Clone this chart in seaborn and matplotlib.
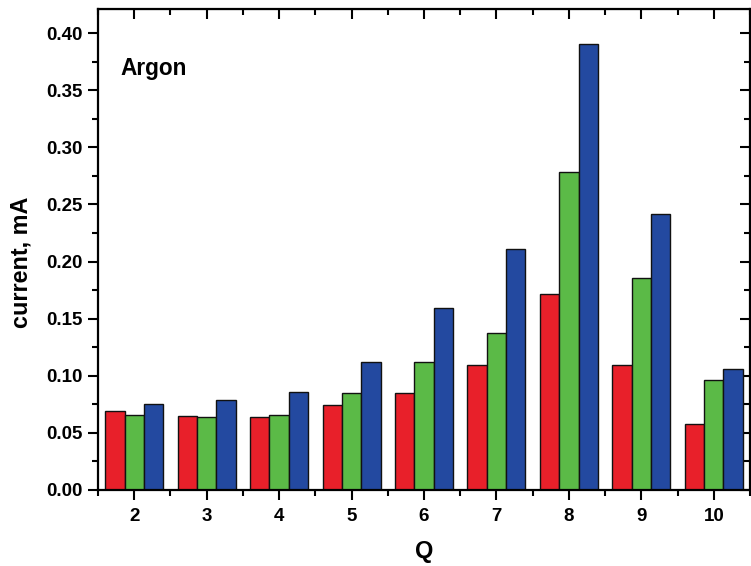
import matplotlib
matplotlib.use('Agg')
import matplotlib.pyplot as plt
import seaborn as sns
import pandas as pd
from matplotlib.ticker import MultipleLocator, FixedLocator, FormatStrFormatter

# data
q_values = ['2', '3', '4', '5', '6', '7', '8', '9', '10']
red_vals = [0.069, 0.065, 0.064, 0.074, 0.085, 0.109, 0.172, 0.109, 0.058]
green_vals = [0.066, 0.064, 0.066, 0.085, 0.112, 0.137, 0.278, 0.186, 0.096]
blue_vals = [0.075, 0.079, 0.086, 0.112, 0.159, 0.211, 0.390, 0.242, 0.106]
series_names = ['s1', 's2', 's3']

df = pd.DataFrame({
    'Q': q_values * 3,
    'current': red_vals + green_vals + blue_vals,
    'series': [s for s in series_names for _ in q_values],
})

palette = {'s1': '#E8202A', 's2': '#5BBA47', 's3': '#2349A0'}

sns.set_style('ticks')
plt.rcParams['font.family'] = ['Liberation Sans', 'DejaVu Sans']
plt.rcParams['font.weight'] = 'bold'
plt.rcParams['text.color'] = 'black'
plt.rcParams['axes.labelcolor'] = 'black'
plt.rcParams['xtick.color'] = 'black'
plt.rcParams['ytick.color'] = 'black'

fig = plt.figure(figsize=(7.51, 5.66), dpi=100)
ax = fig.add_axes([0.1305, 0.1343, 0.8682, 0.8497])

sns.barplot(data=df, x='Q', y='current', hue='series', order=q_values,
            hue_order=series_names, palette=palette, width=0.8, gap=0,
            saturation=1, edgecolor='#111111', linewidth=1.0, legend=False, ax=ax)

ax.set_xlim(-0.5, len(q_values) - 0.5)
ax.set_ylim(0, 0.421)

half_pos = [i + 0.5 for i in range(-1, len(q_values))]
ax.yaxis.set_major_locator(MultipleLocator(0.05))
ax.yaxis.set_minor_locator(MultipleLocator(0.025))
ax.xaxis.set_minor_locator(FixedLocator(half_pos))
ax.yaxis.set_major_formatter(FormatStrFormatter('%.2f'))

for side in ['top', 'right', 'left', 'bottom']:
    ax.spines[side].set_visible(True)
    ax.spines[side].set_linewidth(1.6)
    ax.spines[side].set_color('black')

ax.tick_params(axis='both', which='major', length=7, width=1.5, labelsize=13.5)
ax.tick_params(axis='both', which='minor', length=4, width=1.5)
ax.tick_params(axis='x', which='both', direction='out', top=False, pad=6)
ax.tick_params(axis='y', which='both', direction='out', right=False, pad=4)

# inward ticks on the top and right edges
axt = ax.secondary_xaxis('top')
axt.set_xticks(range(len(q_values)))
axt.xaxis.set_minor_locator(FixedLocator(half_pos))
axt.tick_params(which='major', direction='in', length=7, width=1.5, labeltop=False)
axt.tick_params(which='minor', direction='in', length=4, width=1.5)
axr = ax.secondary_yaxis('right')
axr.yaxis.set_major_locator(MultipleLocator(0.05))
axr.yaxis.set_minor_locator(MultipleLocator(0.025))
axr.tick_params(which='major', direction='in', length=7, width=1.5, labelright=False)
axr.tick_params(which='minor', direction='in', length=4, width=1.5)

for lbl in ax.get_xticklabels() + ax.get_yticklabels():
    lbl.set_fontweight('bold')

ax.set_xlabel('Q', fontsize=17, fontweight='bold')
ax.set_ylabel('current, mA', fontsize=16.8, fontweight='bold')
ax.xaxis.set_label_coords(0.5, -0.105)
ax.yaxis.set_label_coords(-0.10, 0.474)
ax.text(0.034, 0.877, 'Argon', transform=ax.transAxes, fontsize=16.3,
        fontweight='bold', ha='left', va='center')

fig.savefig('out.png', dpi=100)
